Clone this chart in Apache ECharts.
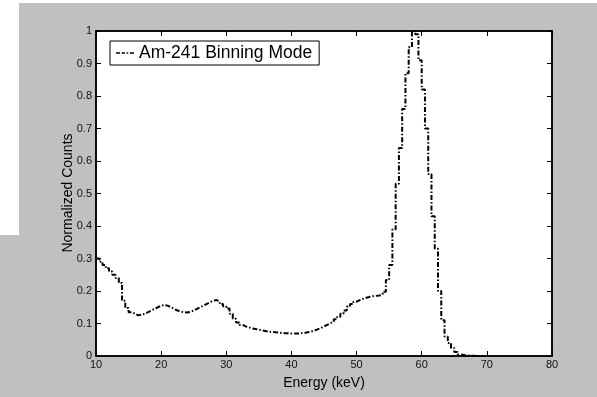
<!DOCTYPE html>
<html><head><meta charset="utf-8">
<script src="https://cdn.jsdelivr.net/npm/echarts@6/dist/echarts.min.js"></script>
<style>html,body{margin:0;padding:0;background:#fff}#c{width:597px;height:397px}</style>
</head><body><div id="c"></div>
<script>
const energy = [10,10.5,11,11.5,12,12.5,13,13.5,14,14.5,15,15.5,16,16.5,17,17.5,18,18.5,19,19.5,
20,20.5,21,21.5,22,22.5,23,23.5,24,24.5,25,25.5,26,26.5,27,27.5,28,28.5,29,29.5,
30,30.5,31,31.5,32,32.5,33,33.5,34,34.5,35,35.5,36,36.5,37,37.5,38,38.5,39,39.5,
40,40.5,41,41.5,42,42.5,43,43.5,44,44.5,45,45.5,46,46.5,47,47.5,48,48.5,49,49.5,
50,50.5,51,51.5,52,52.5,53,53.5,54,54.5,55,55.5,56,56.5,57,57.5,58,58.5,59,59.5,
60,60.5,61,61.5,62,62.5,63,63.5,64,64.5,65,65.5,66,66.5,67,67.5,68,68.5,69,69.5];
const counts = [0.30,0.29,0.28,0.27,0.26,0.25,0.24,0.225,0.17,0.148,0.135,0.13,0.125,0.127,0.13,0.135,0.14,0.145,0.15,0.155,
0.157,0.155,0.15,0.145,0.14,0.137,0.135,0.134,0.136,0.14,0.145,0.15,0.155,0.16,0.166,0.17,0.172,0.168,0.16,0.153,
0.146,0.13,0.115,0.103,0.096,0.091,0.088,0.085,0.083,0.081,0.079,0.077,0.075,0.074,0.073,0.072,0.071,0.070,0.070,0.069,
0.069,0.069,0.070,0.071,0.073,0.075,0.078,0.082,0.086,0.091,0.096,0.101,0.106,0.113,0.12,0.13,0.14,0.152,0.16,0.167,
0.172,0.176,0.179,0.182,0.184,0.185,0.186,0.19,0.198,0.234,0.28,0.39,0.53,0.64,0.76,0.87,0.95,1.0,0.99,0.91,
0.82,0.70,0.56,0.43,0.33,0.20,0.11,0.06,0.04,0.025,0.012,0.005,0.003,0.002,0.001,0.001,0,0,0,0];
const seriesName = 'Am-241 Binning Mode';
const xTitle = 'Energy (keV)';
const yTitle = 'Normalized Counts';

const chart = echarts.init(document.getElementById('c'), null, {renderer:'canvas'});
const dash = [5,2,1.5,2];
const font = 'Arial, "Liberation Sans", Helvetica, sans-serif';
const grid = {left:96, top:31, right:45, bottom:41, show:true, backgroundColor:'#fff', borderColor:'#000', borderWidth:1.5};
const baseX = {type:'value', min:10, max:80, interval:10, gridIndex:0};
const baseY = {type:'value', min:0, max:1, interval:0.1, gridIndex:0};
chart.setOption({
  animation:false,
  backgroundColor:'#fff',
  graphic:[
    {type:'rect', z:-10, silent:true, shape:{x:19,y:3,width:578,height:394}, style:{fill:'#c0c0c0'}},
    {type:'rect', z:-10, silent:true, shape:{x:0,y:235,width:19,height:162}, style:{fill:'#c0c0c0'}},
    {type:'text', x:68, y:193, rotation:Math.PI/2, silent:true,
      style:{text:yTitle, fontSize:14, fontFamily:font, fill:'#000', align:'center', verticalAlign:'middle'}}
  ],
  grid: grid,
  legend:{
    left:110, top:41, orient:'horizontal',
    backgroundColor:'#fff', borderColor:'#000', borderWidth:1, borderRadius:0,
    padding:[3,7,3,6], itemWidth:18, itemHeight:2, itemGap:5,
    textStyle:{fontSize:17.5, color:'#000', fontFamily:font},
    data:[{name:seriesName, icon:'path://M0,0h5v2h-5z M7,0h4v2h-4z M13,0h2v2h-2z M17,0h5v2h-5z',
      itemStyle:{color:'#000'}}]
  },
  xAxis:[
    Object.assign({}, baseX, {
      name:xTitle, nameLocation:'middle', nameGap:20,
      nameTextStyle:{fontSize:14, color:'#000', fontFamily:font},
      axisLine:{show:true, onZero:false, lineStyle:{color:'#000', width:1.5}},
      axisTick:{show:true, inside:true, length:5, lineStyle:{color:'#000'}},
      axisLabel:{fontSize:11, color:'#111', fontFamily:font, margin:3},
      splitLine:{show:false}
    }),
    Object.assign({}, baseX, {
      position:'top',
      axisLine:{show:true, onZero:false, lineStyle:{color:'#000', width:1.5}},
      axisTick:{show:true, inside:true, length:5, lineStyle:{color:'#000'}},
      axisLabel:{show:false}, splitLine:{show:false}
    })
  ],
  yAxis:[
    Object.assign({}, baseY, {
      axisLine:{show:true, onZero:false, lineStyle:{color:'#000', width:1.5}},
      axisTick:{show:true, inside:true, length:5, lineStyle:{color:'#000'}},
      axisLabel:{fontSize:11, color:'#111', fontFamily:font, margin:4,
        formatter:v => String(+v.toFixed(1))},
      splitLine:{show:false}
    }),
    Object.assign({}, baseY, {
      position:'right',
      axisLine:{show:true, onZero:false, lineStyle:{color:'#000', width:1.5}},
      axisTick:{show:true, inside:true, length:5, lineStyle:{color:'#000'}},
      axisLabel:{show:false}, splitLine:{show:false}
    })
  ],
  series:[{
    name:seriesName, type:'line', step:'end',
    xAxisIndex:0, yAxisIndex:0,
    showSymbol:false, symbol:'none',
    lineStyle:{color:'#000', width:2, type:dash},
    itemStyle:{color:'#000'},
    data: energy.map((e,i)=>[e, counts[i]])
  }]
});
</script></body></html>
